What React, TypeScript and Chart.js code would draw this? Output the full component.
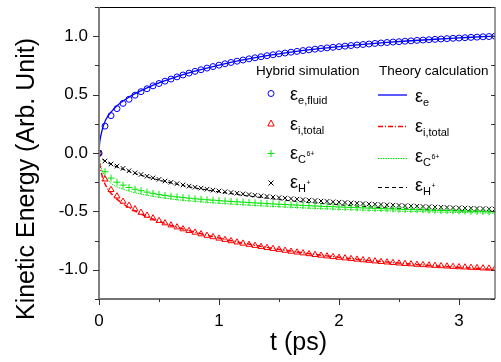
import { useEffect, useRef } from 'react';
import { Chart, registerables } from 'chart.js';
Chart.register(...registerables);

const FONT = '"Liberation Sans", Arial, Helvetica, sans-serif';

// ---- data: hybrid simulation (markers) ----
const tMarks = [
  0, 0.05, 0.1, 0.15, 0.2, 0.25, 0.3, 0.35, 0.4, 0.45, 0.5,
  0.55, 0.6, 0.65, 0.7, 0.75, 0.8, 0.85, 0.9, 0.95, 1.0,
  1.05, 1.1, 1.15, 1.2, 1.25, 1.3, 1.35, 1.4, 1.45, 1.5,
  1.55, 1.6, 1.65, 1.7, 1.75, 1.8, 1.85, 1.9, 1.95, 2.0,
  2.05, 2.1, 2.15, 2.2, 2.25, 2.3, 2.35, 2.4, 2.45, 2.5,
  2.55, 2.6, 2.65, 2.7, 2.75, 2.8, 2.85, 2.9, 2.95, 3.0,
  3.05, 3.1, 3.15, 3.2, 3.25, 3.3,
];
const eFluid = [
  0, 0.23, 0.32, 0.38, 0.425, 0.46, 0.495, 0.525, 0.55, 0.575, 0.595,
  0.615, 0.633, 0.652, 0.668, 0.684, 0.699, 0.713, 0.727, 0.74, 0.752,
  0.764, 0.775, 0.786, 0.796, 0.806, 0.815, 0.824, 0.833, 0.841, 0.849,
  0.856, 0.863, 0.87, 0.877, 0.883, 0.889, 0.895, 0.9, 0.905, 0.91,
  0.915, 0.92, 0.925, 0.929, 0.933, 0.938, 0.942, 0.946, 0.95, 0.953,
  0.957, 0.96, 0.964, 0.967, 0.97, 0.973, 0.976, 0.979, 0.982, 0.984,
  0.987, 0.99, 0.992, 0.995, 0.997, 1.0,
];
const iTotal = [
  0, -0.225, -0.315, -0.37, -0.415, -0.45, -0.48, -0.51, -0.535, -0.558, -0.58,
  -0.6, -0.618, -0.635, -0.651, -0.666, -0.68, -0.694, -0.707, -0.719, -0.731,
  -0.742, -0.753, -0.764, -0.774, -0.784, -0.793, -0.802, -0.811, -0.819, -0.827,
  -0.835, -0.843, -0.85, -0.857, -0.864, -0.871, -0.877, -0.883, -0.889, -0.895,
  -0.9, -0.906, -0.911, -0.916, -0.921, -0.926, -0.931, -0.935, -0.94, -0.944,
  -0.948, -0.951, -0.955, -0.958, -0.961, -0.964, -0.967, -0.97, -0.973, -0.976,
  -0.978, -0.981, -0.983, -0.986, -0.988, -0.99,
];
const cIon = [
  0, -0.16, -0.215, -0.25, -0.275, -0.295, -0.31, -0.323, -0.335, -0.345, -0.355,
  -0.363, -0.37, -0.376, -0.382, -0.387, -0.392, -0.396, -0.4, -0.404, -0.408,
  -0.411, -0.415, -0.418, -0.421, -0.424, -0.427, -0.43, -0.433, -0.436, -0.439,
  -0.441, -0.444, -0.446, -0.449, -0.451, -0.454, -0.456, -0.458, -0.46, -0.462,
  -0.464, -0.466, -0.468, -0.47, -0.472, -0.474, -0.476, -0.478, -0.479, -0.481,
  -0.483, -0.484, -0.486, -0.487, -0.489, -0.49, -0.492, -0.493, -0.495, -0.496,
  -0.497, -0.499, -0.5, -0.501, -0.503, -0.504,
];
const hIon = [
  0, -0.068, -0.094, -0.112, -0.132, -0.152, -0.17, -0.184, -0.199, -0.213, -0.226,
  -0.24, -0.251, -0.262, -0.274, -0.284, -0.293, -0.301, -0.31, -0.318, -0.325,
  -0.332, -0.338, -0.344, -0.35, -0.356, -0.362, -0.367, -0.372, -0.377, -0.382,
  -0.386, -0.391, -0.395, -0.399, -0.403, -0.407, -0.411, -0.414, -0.418, -0.421,
  -0.424, -0.427, -0.43, -0.433, -0.436, -0.439, -0.441, -0.444, -0.446, -0.449,
  -0.451, -0.453, -0.455, -0.458, -0.46, -0.462, -0.464, -0.466, -0.468, -0.469,
  -0.471, -0.473, -0.475, -0.476, -0.478, -0.48,
];

// ---- data: theory calculation (lines) ----
const tTheory = [0, 0.005, 0.01, 0.02, 0.03, 0.05, 0.075, 0.1, 0.15, 0.2, 0.25, 0.3, 0.4, 0.5, 0.6, 0.7, 0.8, 1.0, 1.2, 1.4, 1.6, 1.8, 2.0, 2.2, 2.4, 2.6, 2.8, 3.0, 3.2, 3.3];
const eTheory = [0, 0.08, 0.12, 0.17, 0.21, 0.27, 0.315, 0.35, 0.405, 0.445, 0.478, 0.508, 0.558, 0.6, 0.636, 0.67, 0.7, 0.753, 0.797, 0.834, 0.864, 0.89, 0.911, 0.93, 0.947, 0.961, 0.974, 0.985, 0.996, 1.001];
const iTheory = [0, -0.08, -0.12, -0.17, -0.21, -0.265, -0.31, -0.345, -0.395, -0.435, -0.468, -0.497, -0.545, -0.585, -0.62, -0.65, -0.678, -0.728, -0.771, -0.808, -0.84, -0.868, -0.893, -0.915, -0.934, -0.951, -0.966, -0.979, -0.991, -0.996];
const cTheory = [0, -0.06, -0.09, -0.13, -0.16, -0.2, -0.235, -0.26, -0.29, -0.31, -0.326, -0.34, -0.362, -0.38, -0.394, -0.405, -0.414, -0.43, -0.443, -0.455, -0.465, -0.474, -0.482, -0.489, -0.495, -0.5, -0.505, -0.509, -0.513, -0.515];
const hTheory = [0, -0.02, -0.03, -0.045, -0.055, -0.07, -0.085, -0.098, -0.12, -0.14, -0.158, -0.175, -0.205, -0.232, -0.256, -0.279, -0.299, -0.333, -0.362, -0.387, -0.41, -0.428, -0.444, -0.458, -0.47, -0.48, -0.488, -0.494, -0.499, -0.5];

// ---- ticks ----
const xMajor = [0, 1, 2, 3];
const xMinor = [0.5, 1.5, 2.5];
const yMajor = [-1.0, -0.5, 0.0, 0.5, 1.0];
const yMinor = [-1.25, -0.75, -0.25, 0.25, 0.75, 1.25];

const BLUE = '#0000ff';
const RED = '#ff0000';
const GREEN = '#00e600';
const BLACK = '#000000';

const pts = (xs: number[], ys: number[]) => xs.map((x, i) => ({ x, y: ys[i] }));

function line(ctx: CanvasRenderingContext2D, x1: number, y1: number, x2: number, y2: number) {
  ctx.beginPath();
  ctx.moveTo(x1, y1);
  ctx.lineTo(x2, y2);
  ctx.stroke();
}

function epsLabel(ctx: CanvasRenderingContext2D, x: number, y: number, sub: string, sup?: string) {
  ctx.textAlign = 'left';
  ctx.textBaseline = 'alphabetic';
  ctx.fillStyle = '#000';
  ctx.font = `18px ${FONT}`;
  ctx.fillText('ε', x, y);
  const w = ctx.measureText('ε').width;
  ctx.font = `11px ${FONT}`;
  ctx.fillText(sub, x + w, y + 4);
  if (sup) {
    const w2 = ctx.measureText(sub).width;
    ctx.font = `7px ${FONT}`;
    ctx.fillText(sup, x + w + w2 + 0.5, y - 3);
  }
}

const zeroPad = (s: any) => {
  s.paddingTop = 0;
  s.paddingBottom = 0;
  s.paddingLeft = 0;
  s.paddingRight = 0;
};

const decor = {
  id: 'decor',
  afterDraw(chart: any) {
    const ctx: CanvasRenderingContext2D = chart.ctx;
    const { left, right, top, bottom } = chart.chartArea;
    const xs = chart.scales.x;
    const ys = chart.scales.y;
    ctx.save();
    ctx.setLineDash([]);
    // frame
    ctx.strokeStyle = '#000';
    ctx.lineWidth = 1;
    line(ctx, left, top + 0.5, right, top + 0.5);
    ctx.strokeStyle = '#777';
    ctx.lineWidth = 1.5;
    line(ctx, right, top, right, bottom);
    ctx.strokeStyle = '#444';
    line(ctx, left, bottom, right, bottom);
    ctx.strokeStyle = '#808080';
    ctx.lineWidth = 2;
    line(ctx, left, top, left, bottom + 1);
    // ticks
    ctx.strokeStyle = '#333';
    ctx.lineWidth = 1;
    for (const v of xMajor) {
      const px = Math.round(xs.getPixelForValue(v)) + 0.5;
      line(ctx, px, bottom, px, bottom + 6);
    }
    for (const v of xMinor) {
      const px = Math.round(xs.getPixelForValue(v)) + 0.5;
      line(ctx, px, bottom, px, bottom + 3);
    }
    for (const v of yMajor) {
      const py = Math.round(ys.getPixelForValue(v)) + 0.5;
      line(ctx, left - 6, py, left, py);
      line(ctx, right - 4, py, right, py);
    }
    for (const v of yMinor) {
      const py = Math.round(ys.getPixelForValue(v)) + 0.5;
      line(ctx, left - 4, py, left, py);
      line(ctx, right - 4, py, right, py);
    }
    // axis titles
    ctx.fillStyle = '#000';
    ctx.font = `25px ${FONT}`;
    ctx.textAlign = 'center';
    ctx.textBaseline = 'alphabetic';
    ctx.fillText('t (ps)', 298.5, 349.5);
    ctx.save();
    ctx.translate(33.5, 179);
    ctx.rotate(-Math.PI / 2);
    ctx.fillText('Kinetic Energy (Arb. Unit)', 0, 0);
    ctx.restore();

    // legend headers
    ctx.font = `13.5px ${FONT}`;
    ctx.textAlign = 'left';
    ctx.fillText('Hybrid simulation', 256, 75);
    ctx.fillText('Theory calculation', 379, 75);

    // legend markers
    const mx = 271;
    ctx.lineWidth = 1;
    ctx.strokeStyle = BLUE;
    ctx.beginPath();
    ctx.arc(mx, 93.5, 3, 0, Math.PI * 2);
    ctx.stroke();
    ctx.strokeStyle = RED;
    ctx.beginPath();
    ctx.moveTo(mx, 120);
    ctx.lineTo(mx + 3.2, 126);
    ctx.lineTo(mx - 3.2, 126);
    ctx.closePath();
    ctx.stroke();
    ctx.strokeStyle = GREEN;
    line(ctx, mx - 3.5, 153.5, mx + 3.5, 153.5);
    line(ctx, mx, 150, mx, 157);
    ctx.strokeStyle = BLACK;
    line(ctx, mx - 2.5, 180.5, mx + 2.5, 185.5);
    line(ctx, mx - 2.5, 185.5, mx + 2.5, 180.5);

    // legend lines
    const lx1 = 378, lx2 = 407;
    ctx.strokeStyle = BLUE;
    ctx.lineWidth = 1.3;
    line(ctx, lx1, 95, lx2, 95);
    ctx.strokeStyle = RED;
    ctx.setLineDash([5, 2, 1, 2]);
    line(ctx, lx1, 126.5, lx2, 126.5);
    ctx.strokeStyle = GREEN;
    ctx.lineWidth = 1;
    ctx.setLineDash([1.5, 1]);
    line(ctx, lx1, 158.5, lx2, 158.5);
    ctx.strokeStyle = BLACK;
    ctx.setLineDash([4, 3]);
    line(ctx, lx1, 187.5, lx2, 187.5);
    ctx.setLineDash([]);

    // legend labels
    epsLabel(ctx, 290, 99.5, 'e,fluid');
    epsLabel(ctx, 290, 129.5, 'i,total');
    epsLabel(ctx, 290, 158.5, 'C', '6+');
    epsLabel(ctx, 290, 187.5, 'H', '+');
    epsLabel(ctx, 415, 102, 'e');
    epsLabel(ctx, 415, 132, 'i,total');
    epsLabel(ctx, 415, 162, 'C', '6+');
    epsLabel(ctx, 415, 191, 'H', '+');
    ctx.restore();
  },
};

export default function App() {
  const ref = useRef<HTMLCanvasElement>(null);
  useEffect(() => {
    if (!ref.current) return;
    const marker = (data: any, color: string, style: string, r: number) => ({
      data,
      showLine: false,
      borderColor: color,
      backgroundColor: 'transparent',
      pointStyle: style,
      pointRadius: r,
      pointBorderWidth: 1,
    });
    const theory = (data: any, color: string, dash: number[], w: number) => ({
      data,
      showLine: true,
      borderColor: color,
      backgroundColor: color,
      borderWidth: w,
      borderDash: dash,
      pointRadius: 0,
      cubicInterpolationMode: 'monotone',
    });
    const chart = new Chart(ref.current, {
      type: 'scatter',
      data: {
        datasets: [
          marker(pts(tMarks, eFluid), BLUE, 'circle', 3),
          marker(pts(tMarks, iTotal), RED, 'triangle', 3.5),
          marker(pts(tMarks, cIon), GREEN, 'cross', 3.5),
          marker(pts(tMarks, hIon), BLACK, 'crossRot', 3.2),
          theory(pts(tTheory, eTheory), BLUE, [], 1.3),
          theory(pts(tTheory, iTheory), RED, [5, 2, 1, 2], 1.5),
          theory(pts(tTheory, cTheory), GREEN, [1.5, 1], 1),
          theory(pts(tTheory, hTheory), BLACK, [4, 3], 1),
        ] as any,
      },
      options: {
        animation: false,
        responsive: false,
        devicePixelRatio: 1,
        layout: { padding: { left: 0, right: 6, top: 7, bottom: 0 } },
        plugins: { legend: { display: false }, tooltip: { enabled: false } },
        scales: {
          x: {
            type: 'linear',
            min: 0,
            max: 3.3,
            afterBuildTicks: (s: any) => {
              s.ticks = xMajor.map((v) => ({ value: v }));
            },
            afterFit: (s: any) => {
              s.height = 63;
              zeroPad(s);
            },
            grid: { display: false, drawTicks: false },
            border: { display: false },
            ticks: {
              padding: 12,
              autoSkip: false,
              maxRotation: 0,
              color: '#000',
              font: { family: FONT, size: 17 },
              callback: (v: any) => String(v),
            },
          },
          y: {
            type: 'linear',
            min: -1.25,
            max: 1.25,
            afterBuildTicks: (s: any) => {
              s.ticks = yMajor.map((v) => ({ value: v }));
            },
            afterFit: (s: any) => {
              s.width = 99;
              zeroPad(s);
            },
            grid: { display: false, drawTicks: false },
            border: { display: false },
            ticks: {
              padding: 11,
              autoSkip: false,
              color: '#000',
              font: { family: FONT, size: 17 },
              callback: (v: any) => Number(v).toFixed(1),
            },
          },
        },
      } as any,
      plugins: [decor as any],
    });
    return () => chart.destroy();
  }, []);
  return (
    <div style={{ position: 'absolute', left: 0, top: 0, width: 501, height: 362, background: '#fff' }}>
      <canvas ref={ref} width={501} height={362} style={{ display: 'block' }} />
    </div>
  );
}
